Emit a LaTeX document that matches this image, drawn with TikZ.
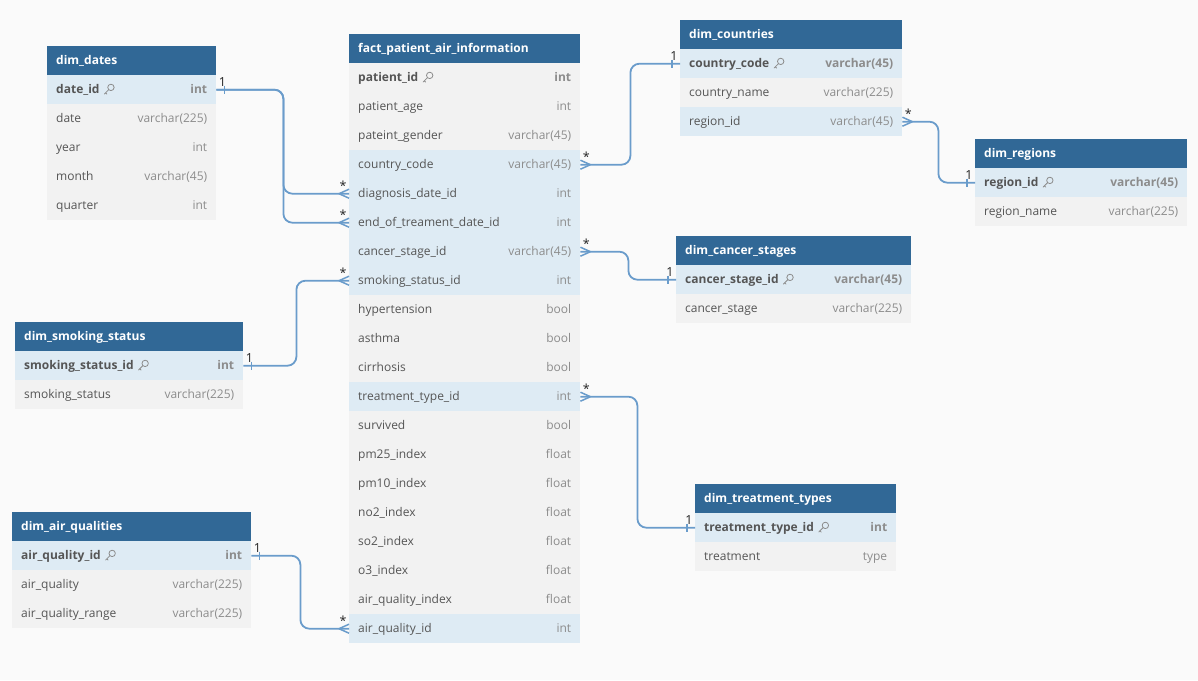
\documentclass[tikz,border=0pt]{standalone}
\usepackage{fontspec}
\setmainfont{Open Sans}
\definecolor{canvas}{HTML}{FAFAFA}
\definecolor{hdrblue}{HTML}{316896}
\definecolor{keyrow}{HTML}{DEEBF4}
\definecolor{plainrow}{HTML}{F2F2F2}
\definecolor{fieldtxt}{HTML}{555555}
\definecolor{typetxt}{HTML}{8C8C8C}
\definecolor{linkblue}{HTML}{6A9CCB}
\definecolor{cardtxt}{HTML}{222222}

\tikzset{
  hdrbox/.style={fill=hdrblue, draw=none, inner sep=0, anchor=north west, minimum height=29},
  rowbox/.style={draw=none, inner sep=0, anchor=north west, minimum height=29},
  rowk/.style={fill=keyrow},
  rowp/.style={fill=plainrow},
  rowf/.style={fill=keyrow},
  rown/.style={fill=plainrow},
  titletext/.style={text=white, font=\fontsize{12}{14}\selectfont\bfseries, inner sep=0, anchor=base west},
  nametext/.style={text=fieldtxt, font=\fontsize{12}{14}\selectfont, inner sep=0, anchor=base west},
  typetext/.style={text=typetxt, font=\fontsize{12}{14}\selectfont, inner sep=0, anchor=base east},
  keyname/.style={font=\fontsize{12}{14}\selectfont\bfseries},
  linkline/.style={draw=linkblue, line width=1.8, rounded corners=9},
  endmark/.style={draw=linkblue, line width=1.5},
  cardlabel/.style={text=cardtxt, font=\fontsize{12.5}{14}\selectfont, inner sep=0},
  keystroke/.style={draw=typetxt, line width=0.8, line join=round, line cap=round},
  keyicon/.pic={
    % ring at the upper right, shaft with one tooth toward the lower left
    \draw[keystroke] (2.2,-2.2) circle[radius=3.2pt];
    \draw[keystroke] (-0.1,0.1) -- (-4.4,4.4) (-3.2,3.2) -- (-1.8,4.6);
  }
}

% \ertable{id}{left}{top}{width}{title}{name/type/kind,...}
% kind: k = key (tinted), p = key (plain), f = foreign key (tinted), n = plain
\newcommand\ertable[6]{%
  \node[hdrbox, minimum width=#4] (#1) at (#2,#3) {};
  \node[titletext] (#1-title) at ([xshift=9, yshift=-3.9]#1.west) {#5};
  \foreach \fname/\ftype/\fkind [count=\i] in {#6} {
    \pgfmathsetmacro\rowtop{#3+29*\i}
    \node[rowbox, row\fkind, minimum width=#4] (#1-\i) at (#2,\rowtop) {};
    \if\fkind k\def\boldrow{1}\else\if\fkind p\def\boldrow{1}\else\def\boldrow{0}\fi\fi
    \ifnum\boldrow=1
      \node[nametext, keyname] (#1-\i-name) at ([xshift=9, yshift=-4.1]#1-\i.west) {\fname};
      \node[typetext, keyname] (#1-\i-type) at ([xshift=-9, yshift=-4.1]#1-\i.east) {\ftype};
      \pic at ([xshift=9, yshift=4.2]#1-\i-name.base east) {keyicon};
    \else
      \node[nametext] (#1-\i-name) at ([xshift=9, yshift=-4.1]#1-\i.west) {\fname};
      \node[typetext] (#1-\i-type) at ([xshift=-9, yshift=-4.1]#1-\i.east) {\ftype};
    \fi
  }
}

% crow's foot where the line meets the table; #2 = 1 leaves rightwards, -1 leftwards
\newcommand\manyend[2]{%
  \draw[endmark] ([xshift=#2*10]#1) -- ([yshift=4.5]#1)
                 ([xshift=#2*10]#1) -- ([yshift=-4.5]#1);
  \node[cardlabel] at ([xshift=#2*6, yshift=8]#1) {*};
}
% single bar near the table; #2 = 1 leaves rightwards, -1 leftwards
\newcommand\oneend[2]{%
  \draw[endmark] ([xshift=#2*8, yshift=4]#1) -- ([xshift=#2*8, yshift=-4]#1);
  \node[cardlabel] at ([xshift=#2*6, yshift=7.5]#1) {1};
}

\begin{document}
\begin{tikzpicture}[x=1pt, y=-1pt]
  \fill[canvas] (0,0) rectangle (1198,680);
  \useasboundingbox (0,0) rectangle (1198,680);

  \ertable{fact}{349}{34}{231}{fact\_patient\_air\_information}{
    patient\_id/int/p, patient\_age/int/n, pateint\_gender/varchar(45)/n,
    country\_code/varchar(45)/f, diagnosis\_date\_id/int/f,
    end\_of\_treament\_date\_id/int/f, cancer\_stage\_id/varchar(45)/f,
    smoking\_status\_id/int/f, hypertension/bool/n, asthma/bool/n,
    cirrhosis/bool/n, treatment\_type\_id/int/f, survived/bool/n,
    pm25\_index/float/n, pm10\_index/float/n, no2\_index/float/n,
    so2\_index/float/n, o3\_index/float/n, air\_quality\_index/float/n,
    air\_quality\_id/int/f}

  \ertable{dates}{47}{46}{169}{dim\_dates}{
    date\_id/int/k, date/varchar(225)/n, year/int/n,
    month/varchar(45)/n, quarter/int/n}

  \ertable{countries}{680}{20}{222}{dim\_countries}{
    country\_code/varchar(45)/k, country\_name/varchar(225)/n,
    region\_id/varchar(45)/f}

  \ertable{regions}{975}{139}{212}{dim\_regions}{
    region\_id/varchar(45)/k, region\_name/varchar(225)/n}

  \ertable{stages}{676}{236}{235}{dim\_cancer\_stages}{
    cancer\_stage\_id/varchar(45)/k, cancer\_stage/varchar(225)/n}

  \ertable{smoking}{15}{322}{228}{dim\_smoking\_status}{
    smoking\_status\_id/int/k, smoking\_status/varchar(225)/n}

  \ertable{air}{12}{512}{239}{dim\_air\_qualities}{
    air\_quality\_id/int/k, air\_quality/varchar(225)/n,
    air\_quality\_range/varchar(225)/n}

  \ertable{treatments}{695}{484}{201}{dim\_treatment\_types}{
    treatment\_type\_id/int/k, treatment/type/n}

  % relationships
  \draw[linkline] (dates-1.east) -- ++(67,0) |- (fact-5.west);
  \draw[linkline] (dates-1.east) -- ++(67,0) |- (fact-6.west);
  \draw[linkline] (fact-4.east) -- ++(50,0) |- (countries-1.west);
  \draw[linkline] (countries-3.east) -- ++(36,0) |- (regions-1.west);
  \draw[linkline] (fact-7.east) -- ++(48,0) |- (stages-1.west);
  \draw[linkline] (smoking-1.east) -- ++(53,0) |- (fact-8.west);
  \draw[linkline] (fact-12.east) -- ++(57,0) |- (treatments-1.west);
  \draw[linkline] (air-1.east) -- ++(49,0) |- (fact-20.west);

  \oneend{dates-1.east}{1}
  \manyend{fact-5.west}{-1}
  \manyend{fact-6.west}{-1}
  \manyend{fact-4.east}{1}
  \oneend{countries-1.west}{-1}
  \manyend{countries-3.east}{1}
  \oneend{regions-1.west}{-1}
  \manyend{fact-7.east}{1}
  \oneend{stages-1.west}{-1}
  \oneend{smoking-1.east}{1}
  \manyend{fact-8.west}{-1}
  \manyend{fact-12.east}{1}
  \oneend{treatments-1.west}{-1}
  \oneend{air-1.east}{1}
  \manyend{fact-20.west}{-1}
\end{tikzpicture}
\end{document}
